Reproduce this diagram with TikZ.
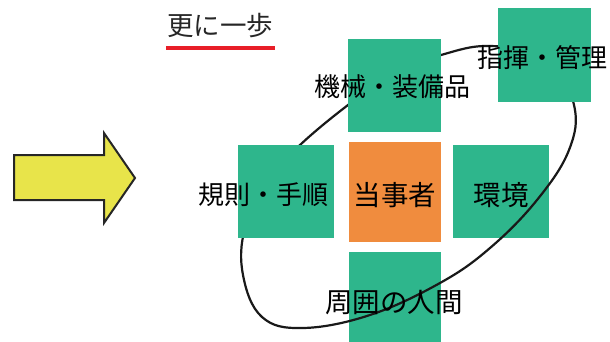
\documentclass[tikz,border=0pt]{standalone}
\usepackage{fontspec}
\newfontfamily\jp{Noto Sans CJK JP}
\definecolor{boxgreen}{RGB}{46,182,140}
\definecolor{boxorange}{RGB}{240,140,62}
\definecolor{arrowyellow}{RGB}{232,228,74}
\definecolor{ulred}{RGB}{232,30,40}
\tikzset{
  lbl/.style={font=\jp\fontsize{26}{26}\selectfont, text=black, inner sep=0pt},
  lblbig/.style={lbl, font=\jp\fontsize{27.5}{27.5}\selectfont},
}
\begin{document}
\begin{tikzpicture}[x=1pt,y=-1pt]
\useasboundingbox (0,0) rectangle (610,342);
\fill[white] (0,0) rectangle (610,342);
% title
\node[font=\jp\fontsize{26.5}{26.5}\selectfont, text=black!85, inner sep=0pt] (title) at (220,26) {更に一歩};
\fill[ulred] (166,46) rectangle (275,50);
% arrow
\draw[fill=arrowyellow, draw=black!85, line width=2pt, line join=miter]
  (14,155) -- (104,155) -- (104,133) -- (135,178) -- (104,223) -- (104,200) -- (14,200) -- cycle;
% boxes under the curve
\fill[boxgreen] (453,145) rectangle (549,238);
\fill[boxgreen] (349,252) rectangle (441,342);
\fill[boxorange] (349,142) rectangle (441,242);
% curve
\draw[line width=2.2pt, black!90] plot[smooth cycle, tension=0.65] coordinates {
  (441,55) (490,46) (548,58) (574,105) (569,150) (537,200) (490,248)
  (440,283) (370,315) (303,328) (262,317) (243,275) (245,228) (268,180)
  (300,145) (348,105) (395,72)};
% boxes over the curve
\fill[boxgreen] (348,39) rectangle (441,132);
\fill[boxgreen] (498,8) rectangle (591,102);
\fill[boxgreen] (238,145) rectangle (334,238);
% labels
\node[lbl] (kikai) at (392,87) {機械・装備品};
\node[lbl] (shiki) at (542,58) {指揮・管理};
\node[lbl] (kisoku) at (263,195) {規則・手順};
\node[lblbig] (tojisha) at (395,195) {当事者};
\node[lblbig] (kankyo) at (501,195) {環境};
\node[lblbig] (shui) at (394,303) {周囲の人間};
\end{tikzpicture}
\end{document}
